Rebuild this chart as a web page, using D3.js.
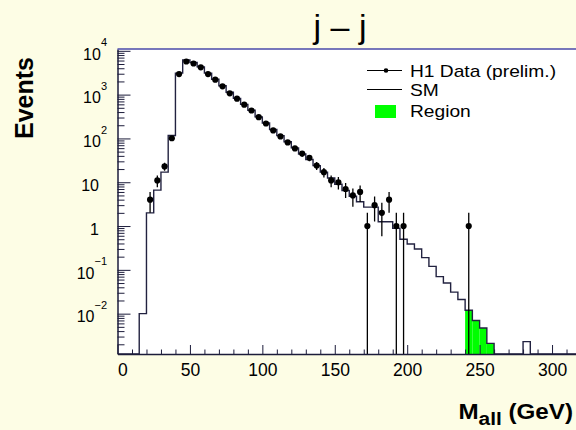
<!DOCTYPE html>
<html><head><meta charset="utf-8">
<script src="https://cdn.jsdelivr.net/npm/d3@7"></script>
<style>
body{margin:0;background:#fdfde5;}
svg{display:block;font-family:"Liberation Sans",Arial,Helvetica,sans-serif;}
</style></head><body>
<svg id="chart" width="576" height="430"></svg>
<script>
// ---------------- data ----------------
const titleText = "j \u2013 j";
const yAxisTitle = "Events";
const xAxisTitle = ["M", "all", " (GeV)"];
const xTickValues = [0, 50, 100, 150, 200, 250, 300];
const xTickLabels = ["0", "50", "100", "150", "200", "250", "300"];
const yTickValues = [1e-2, 1e-1, 1, 10, 1e2, 1e3, 1e4];
const yTickBase = ["10", "10", "1", "10", "10", "10", "10"];
const yTickExp = ["\u22122", "\u22121", "", "", "2", "3", "4"];
const binWidth = 5;
const smBinLow = [15, 20, 25, 30, 35, 40, 45, 50, 55, 60, 65, 70, 75, 80, 85, 90, 95, 100, 105, 110,
  115, 120, 125, 130, 135, 140, 145, 150, 155, 160, 165, 170, 175, 180, 185, 190, 195, 200, 205, 210,
  215, 220, 225, 230, 235, 240, 245, 250, 255, 260, 265, 270, 275, 280, 285];
const smValues = [0.01, 2.0, 6.6, 17, 117, 3100, 6150, 5400, 4300, 3100, 2250, 1600, 1130, 820, 600, 440, 310, 225, 160, 116,
  84, 61, 44, 33, 24, 17, 12.5, 9, 6.5, 4.8, 3.6, 2.7, 2.7, 1.25, 1.25, 0.89, 0.5, 0.39, 0.30, 0.19,
  0.12, 0.07, 0.05, 0.031, 0.021, 0.012, 0.007, 0.0047, 0.0021, 0, 0, 0, 0, 0.0023, 0];
const dataBinLow = [20, 25, 30, 35, 40, 45, 50, 55, 60, 65, 70, 75, 80, 85, 90, 95, 100, 105, 110, 115,
  120, 125, 130, 135, 140, 145, 150, 155, 160, 165, 170, 175, 180, 185, 190, 195, 240];
const dataCounts = [4, 11, 23, 101, 2950, 5700, 5130, 4200, 2950, 2190, 1550, 1070, 810, 590, 434, 305, 219, 152, 111, 81,
  59, 45, 36, 24, 17, 11, 10, 7, 5, 6, 1, 3, 2, 4, 1, 1, 1];
const regionBinLow = [240, 245, 250, 255];
const legendLabels = ["H1 Data (prelim.)", "SM", "Region"];

// ---------------- layout ----------------
const svg = d3.select("#chart");
const L = 117.5, R = 581, T = 49, B = 354;
const x = d3.scaleLinear().domain([0, 320]).range([L, R]);
const y = d3.scaleLog().domain([1.2e-3, 1.1e4]).range([B, T]);
const yv = v => (v <= y.domain()[0] ? B : y(v));
const axisColor = "#1c1c3a";
const green = "#00ff00";

svg.append("rect").attr("x", L).attr("y", T).attr("width", R - L).attr("height", B - T).attr("fill", "#ffffff");

svg.append("defs").append("clipPath").attr("id", "clip")
  .append("rect").attr("x", L).attr("y", T).attr("width", R - L).attr("height", B - T);
const plot = svg.append("g").attr("clip-path", "url(#clip)");

// region fill
const smMap = new Map(smBinLow.map((b, i) => [b, smValues[i]]));
plot.selectAll("rect.region").data(regionBinLow).join("rect")
  .attr("class", "region")
  .attr("x", d => x(d)).attr("width", d => x(d + binWidth) - x(d))
  .attr("y", d => yv(smMap.get(d))).attr("height", d => B - yv(smMap.get(d)))
  .attr("fill", green);

// SM step histogram
const smPts = [[x(0), B], [x(smBinLow[0]), B]];
smBinLow.forEach((b, i) => {
  smPts.push([x(b), yv(smValues[i])]);
  smPts.push([x(b + binWidth), yv(smValues[i])]);
});
smPts.push([x(smBinLow[smBinLow.length - 1] + binWidth), B], [x(320), B]);
plot.append("path").attr("d", d3.line()(smPts))
  .attr("fill", "none").attr("stroke", "#222240").attr("stroke-width", 1.4);

// data points with errors
const dat = dataBinLow.map((b, i) => ({ c: b + binWidth / 2, n: dataCounts[i] }));
plot.selectAll("line.err").data(dat).join("line")
  .attr("class", "err")
  .attr("x1", d => x(d.c)).attr("x2", d => x(d.c))
  .attr("y1", d => yv(d.n + Math.sqrt(d.n))).attr("y2", d => yv(d.n - Math.sqrt(d.n)))
  .attr("stroke", "#000").attr("stroke-width", 1.3);
plot.selectAll("circle.pt").data(dat).join("circle")
  .attr("class", "pt")
  .attr("cx", d => x(d.c)).attr("cy", d => yv(d.n)).attr("r", 3.1).attr("fill", "#000");

// ---------------- axes ----------------
const gx = svg.append("g").attr("transform", `translate(0,${B})`)
  .call(d3.axisBottom(x).tickValues(xTickValues).tickFormat((d, i) => xTickLabels[i])
    .tickSize(-9).tickSizeOuter(0).tickPadding(10));
gx.select(".domain").attr("stroke", axisColor).attr("stroke-width", 1.5);
gx.selectAll(".tick line").attr("stroke", axisColor);
gx.selectAll(".tick text").attr("font-size", 17.5).attr("fill", "#000")
  .attr("font-family", "'Liberation Sans',Arial,sans-serif")
  .attr("text-anchor", d => d === 0 ? "start" : "middle");
const xMinor = d3.range(0, 320, 10).filter(v => v % 50 !== 0);
const gxm = svg.append("g").attr("transform", `translate(0,${B})`)
  .call(d3.axisBottom(x).tickValues(xMinor).tickFormat("").tickSize(-4.5).tickSizeOuter(0));
gxm.select(".domain").remove();
gxm.selectAll(".tick line").attr("stroke", axisColor);

const gy = svg.append("g").attr("transform", `translate(${L},0)`)
  .call(d3.axisLeft(y).tickValues(yTickValues).tickFormat("").tickSize(-13).tickSizeOuter(0));
gy.select(".domain").attr("stroke", axisColor).attr("stroke-width", 1.5);
gy.selectAll(".tick line").attr("stroke", axisColor);
gy.selectAll(".tick").each(function (d, i) {
  const t = d3.select(this).append("text")
    .attr("x", yTickExp[i] ? -10.5 : -18.5).attr("y", 8.3)
    .attr("text-anchor", "end").attr("fill", "#000")
    .attr("font-family", "'Liberation Sans',Arial,sans-serif");
  t.append("tspan").attr("font-size", 16).text(yTickBase[i]);
  if (yTickExp[i]) t.append("tspan").attr("font-size", 11).attr("dy", -13.5).text(yTickExp[i]);
});
const yMinor = [];
for (let k = -3; k <= 4; k++) for (let m = 2; m <= 9; m++) {
  const v = m * Math.pow(10, k);
  if (v > y.domain()[0] && v < y.domain()[1]) yMinor.push(v);
}
const gym = svg.append("g").attr("transform", `translate(${L},0)`)
  .call(d3.axisLeft(y).tickValues(yMinor).tickFormat("").tickSize(-7).tickSizeOuter(0));
gym.select(".domain").remove();
gym.selectAll(".tick line").attr("stroke", axisColor);

svg.append("line").attr("x1", L).attr("x2", R).attr("y1", T).attr("y2", T)
  .attr("stroke", "#4a4aa8").attr("stroke-width", 1.5);

// ---------------- titles ----------------
svg.append("text").attr("x", 340).attr("y", 38).attr("text-anchor", "middle")
  .attr("font-size", 34).attr("fill", "#000").text(titleText);

svg.append("text").attr("transform", "translate(33,98) rotate(-90)").attr("text-anchor", "middle")
  .attr("font-size", 25).attr("font-weight", "bold").attr("fill", "#000").text(yAxisTitle);

const xt = svg.append("text").attr("transform", "translate(573,419) scale(1.1,1)").attr("text-anchor", "end")
  .attr("font-size", 22).attr("font-weight", "bold").attr("fill", "#000");
xt.append("tspan").text(xAxisTitle[0]);
xt.append("tspan").attr("dy", 6).attr("font-size", 19).text(xAxisTitle[1]);
xt.append("tspan").attr("dy", -6).text(xAxisTitle[2]);

// ---------------- legend ----------------
const lg = svg.append("g");
const rowsY = [70.5, 89.5, 111];
lg.append("line").attr("x1", 367).attr("x2", 402).attr("y1", rowsY[0]).attr("y2", rowsY[0]).attr("stroke", "#000").attr("stroke-width", 1.2);
lg.append("circle").attr("cx", 386).attr("cy", rowsY[0]).attr("r", 2.3).attr("fill", "#000");
lg.append("line").attr("x1", 367).attr("x2", 402).attr("y1", rowsY[1]).attr("y2", rowsY[1]).attr("stroke", "#000").attr("stroke-width", 1.2);
lg.append("rect").attr("x", 375).attr("y", rowsY[2] - 6).attr("width", 21).attr("height", 13).attr("fill", green);
lg.selectAll("text").data(legendLabels).join("text")
  .attr("transform", (d, i) => `translate(410,${rowsY[i] + 6.2}) scale(1.2,1)`)
  .attr("font-size", 16).attr("fill", "#000").text(d => d);
</script>
</body></html>
